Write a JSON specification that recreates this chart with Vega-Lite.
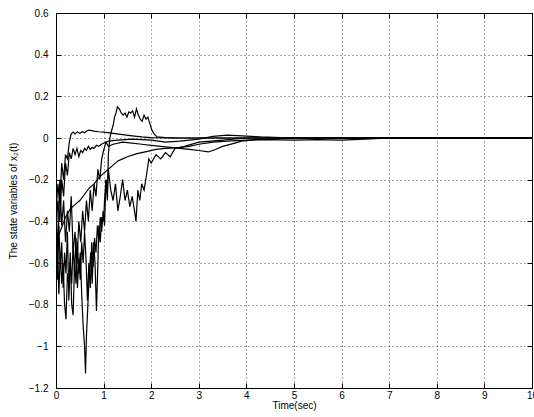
{
"$schema":"https://vega.github.io/schema/vega-lite/v6.json",
"width":476,"height":375,
"autosize":{"type":"none"},
"padding":{"left":56,"top":13,"right":2,"bottom":29},
"background":"white",
"config":{"view":{"stroke":"black","strokeWidth":1},"font":"Liberation Sans"},
"data":{"values":[
{"s":1,"t":0,"v":-0.35},{"s":1,"t":0.04,"v":-0.22},{"s":1,"t":0.08,"v":-0.32},{"s":1,"t":0.12,"v":-0.12},{"s":1,"t":0.16,"v":-0.2},{"s":1,"t":0.2,"v":-0.08},{"s":1,"t":0.24,"v":-0.1},{"s":1,"t":0.28,"v":-0.02},{"s":1,"t":0.32,"v":0.02},{"s":1,"t":0.36,"v":0.028},{"s":1,"t":0.4,"v":0.02},{"s":1,"t":0.45,"v":0.03},{"s":1,"t":0.5,"v":0.022},{"s":1,"t":0.55,"v":0.03},{"s":1,"t":0.6,"v":0.025},{"s":1,"t":0.65,"v":0.035},{"s":1,"t":0.7,"v":0.038},{"s":1,"t":0.8,"v":0.033},{"s":1,"t":0.9,"v":0.03},{"s":1,"t":1.0,"v":0.028},{"s":1,"t":1.2,"v":0.022},{"s":1,"t":1.4,"v":0.016},{"s":1,"t":1.6,"v":0.01},{"s":1,"t":1.8,"v":0.005},{"s":1,"t":2.0,"v":0.002},{"s":1,"t":2.5,"v":0},{"s":1,"t":10,"v":0},
{"s":2,"t":0,"v":-0.5},{"s":2,"t":0.03,"v":-0.68},{"s":2,"t":0.06,"v":-0.42},{"s":2,"t":0.09,"v":-0.62},{"s":2,"t":0.12,"v":-0.5},{"s":2,"t":0.15,"v":-0.72},{"s":2,"t":0.18,"v":-0.55},{"s":2,"t":0.21,"v":-0.65},{"s":2,"t":0.24,"v":-0.45},{"s":2,"t":0.27,"v":-0.78},{"s":2,"t":0.3,"v":-0.6},{"s":2,"t":0.33,"v":-0.7},{"s":2,"t":0.36,"v":-0.5},{"s":2,"t":0.39,"v":-0.66},{"s":2,"t":0.42,"v":-0.48},{"s":2,"t":0.45,"v":-0.72},{"s":2,"t":0.48,"v":-0.58},{"s":2,"t":0.51,"v":-0.68},{"s":2,"t":0.54,"v":-0.5},{"s":2,"t":0.57,"v":-0.6},{"s":2,"t":0.6,"v":-0.45},{"s":2,"t":0.63,"v":-0.58},{"s":2,"t":0.66,"v":-0.78},{"s":2,"t":0.69,"v":-0.6},{"s":2,"t":0.72,"v":-0.72},{"s":2,"t":0.75,"v":-0.5},{"s":2,"t":0.78,"v":-0.62},{"s":2,"t":0.81,"v":-0.48},{"s":2,"t":0.84,"v":-0.55},{"s":2,"t":0.87,"v":-0.42},{"s":2,"t":0.9,"v":-0.5},{"s":2,"t":0.93,"v":-0.38},{"s":2,"t":0.96,"v":-0.45},{"s":2,"t":0.99,"v":-0.35},{"s":2,"t":1.02,"v":-0.42},{"s":2,"t":1.05,"v":-0.2},{"s":2,"t":1.08,"v":-0.3},{"s":2,"t":1.1,"v":-0.08},{"s":2,"t":1.13,"v":0.0},{"s":2,"t":1.16,"v":0.03},{"s":2,"t":1.2,"v":0.06},{"s":2,"t":1.23,"v":0.1},{"s":2,"t":1.26,"v":0.12},{"s":2,"t":1.29,"v":0.15},{"s":2,"t":1.33,"v":0.14},{"s":2,"t":1.37,"v":0.12},{"s":2,"t":1.41,"v":0.11},{"s":2,"t":1.45,"v":0.12},{"s":2,"t":1.49,"v":0.1},{"s":2,"t":1.53,"v":0.125},{"s":2,"t":1.57,"v":0.12},{"s":2,"t":1.61,"v":0.13},{"s":2,"t":1.65,"v":0.1},{"s":2,"t":1.69,"v":0.14},{"s":2,"t":1.73,"v":0.11},{"s":2,"t":1.77,"v":0.09},{"s":2,"t":1.81,"v":0.08},{"s":2,"t":1.85,"v":0.11},{"s":2,"t":1.89,"v":0.09},{"s":2,"t":1.93,"v":0.1},{"s":2,"t":1.97,"v":0.07},{"s":2,"t":2.01,"v":0.04},{"s":2,"t":2.06,"v":0.02},{"s":2,"t":2.12,"v":0.006},{"s":2,"t":2.3,"v":0.002},{"s":2,"t":2.6,"v":0},{"s":2,"t":10,"v":0},
{"s":3,"t":0,"v":-0.45},{"s":3,"t":0.04,"v":-0.3},{"s":3,"t":0.08,"v":-0.4},{"s":3,"t":0.12,"v":-0.2},{"s":3,"t":0.16,"v":-0.28},{"s":3,"t":0.2,"v":-0.12},{"s":3,"t":0.24,"v":-0.18},{"s":3,"t":0.28,"v":-0.07},{"s":3,"t":0.32,"v":-0.1},{"s":3,"t":0.36,"v":-0.05},{"s":3,"t":0.4,"v":-0.08},{"s":3,"t":0.44,"v":-0.05},{"s":3,"t":0.48,"v":-0.09},{"s":3,"t":0.52,"v":-0.06},{"s":3,"t":0.56,"v":-0.07},{"s":3,"t":0.6,"v":-0.05},{"s":3,"t":0.64,"v":-0.06},{"s":3,"t":0.68,"v":-0.04},{"s":3,"t":0.72,"v":-0.055},{"s":3,"t":0.76,"v":-0.045},{"s":3,"t":0.8,"v":-0.05},{"s":3,"t":0.85,"v":-0.035},{"s":3,"t":0.9,"v":-0.04},{"s":3,"t":0.95,"v":-0.03},{"s":3,"t":1.0,"v":-0.025},{"s":3,"t":1.1,"v":-0.015},{"s":3,"t":1.3,"v":-0.01},{"s":3,"t":1.6,"v":-0.005},{"s":3,"t":2.0,"v":-0.01},{"s":3,"t":2.3,"v":-0.02},{"s":3,"t":2.6,"v":-0.015},{"s":3,"t":3.0,"v":-0.005},{"s":3,"t":3.3,"v":0.008},{"s":3,"t":3.6,"v":0.014},{"s":3,"t":3.9,"v":0.01},{"s":3,"t":4.3,"v":0.005},{"s":3,"t":5,"v":0},{"s":3,"t":10,"v":0},
{"s":4,"t":0,"v":-0.5},{"s":4,"t":0.1,"v":-0.44},{"s":4,"t":0.2,"v":-0.38},{"s":4,"t":0.3,"v":-0.34},{"s":4,"t":0.4,"v":-0.32},{"s":4,"t":0.5,"v":-0.3},{"s":4,"t":0.6,"v":-0.27},{"s":4,"t":0.7,"v":-0.24},{"s":4,"t":0.8,"v":-0.22},{"s":4,"t":0.9,"v":-0.19},{"s":4,"t":1.0,"v":-0.17},{"s":4,"t":1.1,"v":-0.15},{"s":4,"t":1.2,"v":-0.13},{"s":4,"t":1.3,"v":-0.11},{"s":4,"t":1.4,"v":-0.1},{"s":4,"t":1.5,"v":-0.09},{"s":4,"t":1.7,"v":-0.075},{"s":4,"t":1.9,"v":-0.065},{"s":4,"t":2.1,"v":-0.055},{"s":4,"t":2.3,"v":-0.05},{"s":4,"t":2.5,"v":-0.048},{"s":4,"t":2.8,"v":-0.04},{"s":4,"t":3.0,"v":-0.03},{"s":4,"t":3.3,"v":-0.02},{"s":4,"t":3.6,"v":-0.015},{"s":4,"t":4,"v":-0.01},{"s":4,"t":4.5,"v":-0.008},{"s":4,"t":5,"v":-0.01},{"s":4,"t":5.5,"v":-0.008},{"s":4,"t":6,"v":-0.01},{"s":4,"t":6.5,"v":-0.005},{"s":4,"t":7,"v":0},{"s":4,"t":10,"v":0},
{"s":5,"t":0,"v":-0.7},{"s":5,"t":0.03,"v":-0.5},{"s":5,"t":0.06,"v":-0.75},{"s":5,"t":0.09,"v":-0.55},{"s":5,"t":0.12,"v":-0.7},{"s":5,"t":0.15,"v":-0.6},{"s":5,"t":0.18,"v":-0.8},{"s":5,"t":0.21,"v":-0.87},{"s":5,"t":0.24,"v":-0.65},{"s":5,"t":0.27,"v":-0.7},{"s":5,"t":0.3,"v":-0.55},{"s":5,"t":0.33,"v":-0.8},{"s":5,"t":0.36,"v":-0.85},{"s":5,"t":0.39,"v":-0.6},{"s":5,"t":0.42,"v":-0.7},{"s":5,"t":0.45,"v":-0.5},{"s":5,"t":0.48,"v":-0.65},{"s":5,"t":0.51,"v":-0.55},{"s":5,"t":0.54,"v":-0.75},{"s":5,"t":0.57,"v":-0.9},{"s":5,"t":0.6,"v":-1.0},{"s":5,"t":0.62,"v":-1.13},{"s":5,"t":0.64,"v":-0.95},{"s":5,"t":0.67,"v":-0.8},{"s":5,"t":0.7,"v":-0.65},{"s":5,"t":0.73,"v":-0.55},{"s":5,"t":0.76,"v":-0.7},{"s":5,"t":0.79,"v":-0.5},{"s":5,"t":0.82,"v":-0.6},{"s":5,"t":0.85,"v":-0.83},{"s":5,"t":0.88,"v":-0.6},{"s":5,"t":0.9,"v":-0.42},{"s":5,"t":0.93,"v":-0.5},{"s":5,"t":0.96,"v":-0.38},{"s":5,"t":1.0,"v":-0.4},{"s":5,"t":1.02,"v":-0.3},{"s":5,"t":1.05,"v":-0.2},{"s":5,"t":1.08,"v":-0.25},{"s":5,"t":1.1,"v":-0.15},{"s":5,"t":1.15,"v":-0.25},{"s":5,"t":1.2,"v":-0.3},{"s":5,"t":1.25,"v":-0.22},{"s":5,"t":1.3,"v":-0.35},{"s":5,"t":1.35,"v":-0.28},{"s":5,"t":1.4,"v":-0.2},{"s":5,"t":1.45,"v":-0.3},{"s":5,"t":1.5,"v":-0.25},{"s":5,"t":1.55,"v":-0.33},{"s":5,"t":1.6,"v":-0.28},{"s":5,"t":1.65,"v":-0.35},{"s":5,"t":1.68,"v":-0.4},{"s":5,"t":1.72,"v":-0.25},{"s":5,"t":1.76,"v":-0.3},{"s":5,"t":1.8,"v":-0.22},{"s":5,"t":1.85,"v":-0.25},{"s":5,"t":1.9,"v":-0.18},{"s":5,"t":1.95,"v":-0.1},{"s":5,"t":2.0,"v":-0.12},{"s":5,"t":2.1,"v":-0.08},{"s":5,"t":2.2,"v":-0.1},{"s":5,"t":2.3,"v":-0.07},{"s":5,"t":2.4,"v":-0.09},{"s":5,"t":2.5,"v":-0.05},{"s":5,"t":2.7,"v":-0.04},{"s":5,"t":3.0,"v":-0.02},{"s":5,"t":3.5,"v":-0.01},{"s":5,"t":4,"v":0},{"s":5,"t":10,"v":0},
{"s":6,"t":0,"v":-0.3},{"s":6,"t":0.04,"v":-0.55},{"s":6,"t":0.08,"v":-0.2},{"s":6,"t":0.12,"v":-0.42},{"s":6,"t":0.16,"v":-0.3},{"s":6,"t":0.2,"v":-0.5},{"s":6,"t":0.24,"v":-0.35},{"s":6,"t":0.28,"v":-0.45},{"s":6,"t":0.32,"v":-0.28},{"s":6,"t":0.36,"v":-0.55},{"s":6,"t":0.4,"v":-0.45},{"s":6,"t":0.44,"v":-0.6},{"s":6,"t":0.48,"v":-0.4},{"s":6,"t":0.52,"v":-0.5},{"s":6,"t":0.56,"v":-0.35},{"s":6,"t":0.6,"v":-0.45},{"s":6,"t":0.64,"v":-0.3},{"s":6,"t":0.68,"v":-0.4},{"s":6,"t":0.72,"v":-0.25},{"s":6,"t":0.76,"v":-0.35},{"s":6,"t":0.8,"v":-0.22},{"s":6,"t":0.84,"v":-0.28},{"s":6,"t":0.88,"v":-0.15},{"s":6,"t":0.92,"v":-0.2},{"s":6,"t":0.96,"v":-0.1},{"s":6,"t":1.0,"v":-0.06},{"s":6,"t":1.05,"v":-0.02},{"s":6,"t":1.1,"v":-0.04},{"s":6,"t":1.2,"v":-0.03},{"s":6,"t":1.4,"v":-0.02},{"s":6,"t":1.6,"v":-0.025},{"s":6,"t":1.8,"v":-0.03},{"s":6,"t":2.0,"v":-0.035},{"s":6,"t":2.2,"v":-0.04},{"s":6,"t":2.4,"v":-0.045},{"s":6,"t":2.6,"v":-0.05},{"s":6,"t":2.8,"v":-0.055},{"s":6,"t":3.0,"v":-0.06},{"s":6,"t":3.2,"v":-0.067},{"s":6,"t":3.35,"v":-0.055},{"s":6,"t":3.5,"v":-0.04},{"s":6,"t":3.7,"v":-0.028},{"s":6,"t":3.9,"v":-0.015},{"s":6,"t":4.2,"v":-0.008},{"s":6,"t":5,"v":0},{"s":6,"t":10,"v":0}
]},
"layer":[
{"mark":{"type":"line","color":"black","strokeWidth":1.2,"clip":true},
 "encoding":{
  "x":{"field":"t","type":"quantitative","scale":{"domain":[0,10],"nice":false,"zero":false},
   "axis":{"values":[0,1,2,3,4,5,6,7,8,9,10],"title":"Time(sec)","titleFont":"Liberation Sans","titleFontSize":10,"titleFontWeight":"normal","titleColor":"black","titlePadding":0,
    "labelFont":"Liberation Sans","labelFontSize":10,"labelColor":"black","labelPadding":7,"tickSize":-5,"tickColor":"black","domain":false,
    "grid":true,"gridColor":"black","gridDash":[1,3],"gridOpacity":0.7,"labelFlush":false}},
  "y":{"field":"v","type":"quantitative","scale":{"domain":[-1.2,0.6],"nice":false,"zero":false},
   "axis":{"values":[-1.2,-1,-0.8,-0.6,-0.4,-0.2,0,0.2,0.4,0.6],"format":"~g","title":"The state variables of x₂(t)","titleFont":"Liberation Sans","titleFontSize":10,"titleFontWeight":"normal","titleColor":"black","titlePadding":10,
    "labelFont":"Liberation Sans","labelFontSize":10,"labelColor":"black","labelPadding":13,"tickSize":-5,"tickColor":"black","domain":false,
    "grid":true,"gridColor":"black","gridDash":[1,3],"gridOpacity":0.7,"labelFlush":false}},
  "detail":{"field":"s","type":"nominal"}}},
{"mark":{"type":"line","opacity":0,"clip":true},
 "encoding":{
  "x":{"field":"t","type":"quantitative","axis":{"orient":"top","values":[0,1,2,3,4,5,6,7,8,9,10],"labels":false,"title":null,"tickSize":-5,"tickColor":"black","domain":false,"grid":false}},
  "y":{"field":"v","type":"quantitative","axis":{"orient":"right","values":[-1.2,-1,-0.8,-0.6,-0.4,-0.2,0,0.2,0.4,0.6],"labels":false,"title":null,"tickSize":-5,"tickColor":"black","domain":false,"grid":false}},
  "detail":{"field":"s","type":"nominal"}}}
],
"resolve":{"axis":{"x":"independent","y":"independent"}}
}
